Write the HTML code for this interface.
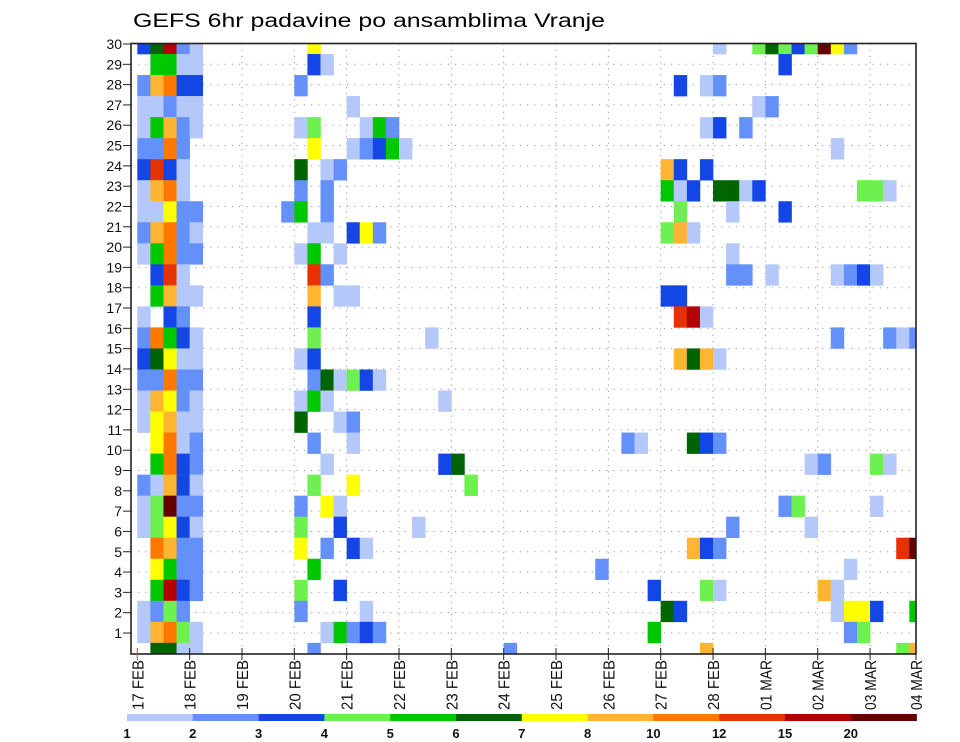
<!DOCTYPE html>
<html><head><meta charset="utf-8"><style>
html,body{margin:0;padding:0;background:#fff;}
svg{display:block;}
</style></head><body>
<svg id="chart" width="960" height="742" viewBox="0 0 960 742" xmlns="http://www.w3.org/2000/svg" font-family="'Liberation Sans', sans-serif">
<defs><clipPath id="plotclip"><rect x="131" y="43.5" width="785" height="610.5"/></clipPath></defs>
<text x="133" y="27" font-size="19" textLength="472" lengthAdjust="spacingAndGlyphs" fill="#000">GEFS 6hr padavine po ansamblima Vranje</text>
<g id="grid"></g>
<g id="cells" clip-path="url(#plotclip)"></g>
<g id="axes"></g>
<g id="colorbar"></g>
</svg>
<script>
// ---- data ----
const dayLabels = ["17 FEB","18 FEB","19 FEB","20 FEB","21 FEB","22 FEB","23 FEB","24 FEB","25 FEB","26 FEB","27 FEB","28 FEB","01 MAR","02 MAR","03 MAR","04 MAR"];
const memberLabels = [1,2,3,4,5,6,7,8,9,10,11,12,13,14,15,16,17,18,19,20,21,22,23,24,25,26,27,28,29,30];
const levels = [1,2,3,4,5,6,7,8,10,12,15,20];
const levelColors = ["#b4c8fa","#6490fa","#1446e6","#6ef050","#00c800","#006400","#ffff00","#ffb432","#ff7800","#e63200","#b40000","#640000"];
// precip[row] = [[col6h, mm], ...]; rows listed top to bottom
const precip = [
 [[0,3.5],[1,6.5],[2,17],[3,2.5],[4,1.5],[13,7.5],[44,1.5],[47,4.5],[48,6.5],[49,4.5],[50,3.5],[51,4.5],[52,25],[53,7.5],[54,2.5]],
 [[1,5.5],[2,5.5],[3,1.5],[4,1.5],[13,3.5],[14,1.5],[49,3.5]],
 [[0,2.5],[1,9],[2,11],[3,3.5],[4,3.5],[12,2.5],[41,3.5],[43,1.5],[44,2.5]],
 [[0,1.5],[1,1.5],[2,2.5],[3,1.5],[4,1.5],[16,1.5],[47,1.5],[48,2.5]],
 [[0,1.5],[1,5.5],[2,9],[3,2.5],[4,1.5],[12,1.5],[13,4.5],[17,1.5],[18,5.5],[19,2.5],[43,1.5],[44,3.5],[46,2.5]],
 [[0,2.5],[1,2.5],[2,11],[3,2.5],[13,7.5],[16,1.5],[17,2.5],[18,3.5],[19,5.5],[20,1.5],[53,1.5]],
 [[0,3.5],[1,13],[2,3.5],[3,1.5],[12,6.5],[14,1.5],[15,2.5],[40,9],[41,3.5],[43,3.5]],
 [[0,1.5],[1,9],[2,11],[3,1.5],[12,2.5],[14,2.5],[40,5.5],[41,1.5],[42,3.5],[44,6.5],[45,6.5],[46,1.5],[47,3.5],[55,4.5],[56,4.5],[57,1.5]],
 [[0,1.5],[1,1.5],[2,7.5],[3,2.5],[4,2.5],[11,2.5],[12,5.5],[14,2.5],[41,4.5],[45,1.5],[49,3.5]],
 [[0,2.5],[1,9],[2,11],[3,2.5],[4,1.5],[13,1.5],[14,1.5],[16,3.5],[17,7.5],[18,2.5],[40,4.5],[41,9],[42,1.5]],
 [[0,1.5],[1,5.5],[2,11],[3,2.5],[4,2.5],[12,1.5],[13,5.5],[15,1.5],[45,1.5]],
 [[1,3.5],[2,13],[3,1.5],[13,13],[14,2.5],[45,2.5],[46,2.5],[48,1.5],[53,1.5],[54,2.5],[55,3.5],[56,1.5]],
 [[1,5.5],[2,9],[3,1.5],[4,1.5],[13,9],[15,1.5],[16,1.5],[40,3.5],[41,3.5]],
 [[0,1.5],[2,3.5],[3,2.5],[13,3.5],[41,13],[42,17],[43,1.5]],
 [[0,2.5],[1,11],[2,5.5],[3,3.5],[4,1.5],[13,4.5],[22,1.5],[53,2.5],[57,2.5],[58,1.5],[59,2.5]],
 [[0,3.5],[1,6.5],[2,7.5],[3,1.5],[4,1.5],[12,1.5],[13,3.5],[41,9],[42,6.5],[43,9],[44,1.5]],
 [[0,2.5],[1,2.5],[2,11],[3,2.5],[4,2.5],[13,2.5],[14,6.5],[15,1.5],[16,4.5],[17,3.5],[18,1.5]],
 [[0,1.5],[1,9],[2,7.5],[3,2.5],[4,1.5],[12,1.5],[13,5.5],[14,1.5],[23,1.5]],
 [[0,1.5],[1,7.5],[2,9],[3,1.5],[4,1.5],[12,6.5],[15,1.5],[16,2.5]],
 [[1,7.5],[2,11],[3,1.5],[4,2.5],[13,2.5],[16,1.5],[37,2.5],[38,1.5],[42,6.5],[43,3.5],[44,2.5]],
 [[1,5.5],[2,11],[3,3.5],[4,2.5],[14,1.5],[23,3.5],[24,6.5],[51,1.5],[52,2.5],[56,4.5],[57,1.5]],
 [[0,2.5],[1,1.5],[2,9],[3,3.5],[4,1.5],[13,4.5],[16,7.5],[25,4.5]],
 [[0,1.5],[1,4.5],[2,25],[3,2.5],[4,2.5],[12,2.5],[14,7.5],[15,1.5],[49,2.5],[50,4.5],[56,1.5]],
 [[0,1.5],[1,4.5],[2,7.5],[3,3.5],[4,1.5],[12,4.5],[15,3.5],[21,1.5],[45,2.5],[51,1.5]],
 [[1,11],[2,9],[3,2.5],[4,2.5],[12,7.5],[14,2.5],[16,3.5],[17,1.5],[42,9],[43,3.5],[44,2.5],[58,13],[59,25]],
 [[1,7.5],[2,5.5],[3,2.5],[4,2.5],[13,5.5],[35,2.5],[54,1.5]],
 [[1,5.5],[2,17],[3,3.5],[4,2.5],[12,4.5],[15,3.5],[39,3.5],[43,4.5],[44,1.5],[52,9],[53,1.5]],
 [[0,1.5],[1,2.5],[2,4.5],[3,2.5],[12,2.5],[17,1.5],[40,6.5],[41,3.5],[53,1.5],[54,7.5],[55,7.5],[56,3.5],[59,5.5]],
 [[0,1.5],[1,9],[2,11],[3,4.5],[4,1.5],[14,1.5],[15,5.5],[16,2.5],[17,3.5],[18,2.5],[39,5.5],[54,2.5],[55,4.5]],
 [[1,6.5],[2,6.5],[3,1.5],[4,1.5],[13,2.5],[28,2.5],[43,9],[58,4.5],[59,9]]
];

// ---- scales ----
const NS="http://www.w3.org/2000/svg";
const X0=137.3, COLW=13.085, DAYW=52.34;
const ROW0=43.5, ROWH=21.03;
function xCol(c){return X0+c*COLW;}
function xDay(d){return X0+d*DAYW;}
function yRow(r){return ROW0+r*ROWH;}           // center of row r (0 = top)
function yLabel(k){return 44+(30-k)*20.31;}      // y-axis label position
function colorFor(v){let idx=-1;for(let i=0;i<levels.length;i++){if(v>=levels[i])idx=i;}return idx<0?null:levelColors[idx];}
function mk(tag,attrs,parent){const e=document.createElementNS(NS,tag);for(const k in attrs)e.setAttribute(k,attrs[k]);parent.appendChild(e);return e;}

const grid=document.getElementById('grid'), cells=document.getElementById('cells'), axes=document.getElementById('axes'), cbar=document.getElementById('colorbar');

// grid lines
memberLabels.forEach(k=>{ if(k<30){
  const l=mk('line',{x1:131,x2:916,y1:yLabel(k),y2:yLabel(k),stroke:'#999','stroke-width':1,'stroke-dasharray':'1.2 6'},grid);
  
  
}});
dayLabels.forEach((d,i)=>{ if(i>0 && i<dayLabels.length-1){
  const l=mk('line',{x1:xDay(i),x2:xDay(i),y1:43.5,y2:654,stroke:'#999','stroke-width':1,'stroke-dasharray':'1.2 5'},grid);
  
  
}});

// cells
precip.forEach((row,r)=>{
  row.forEach(([c,v])=>{
    const col=colorFor(v); if(!col) return;
    const rc=mk('rect',{x:xCol(c),y:yRow(r)-ROWH/2,width:COLW+0.3,height:ROWH+0.3,fill:col},cells);
    
    
  });
});

// frame
const fr=mk('rect',{x:131,y:43.5,width:785,height:610.5,fill:'none',stroke:'#222','stroke-width':1.6},axes);



// y ticks + labels
memberLabels.forEach(k=>{
  const y=yLabel(k);
  const t=mk('line',{x1:123,x2:131,y1:y,y2:y,stroke:'#222','stroke-width':1},axes);
  
  
  const tx=mk('text',{x:122,y:y+5,'font-size':14,'text-anchor':'end',fill:'#111'},axes);
  tx.textContent=String(k);
  
  
});

// x ticks + labels
dayLabels.forEach((d,i)=>{
  const x=Math.min(xDay(i),916);
  const t=mk('line',{x1:x,x2:x,y1:648,y2:660,stroke:i===0?'#c44':'#222','stroke-width':1},axes);
  
  
  const tx=mk('text',{x:0,y:0,'font-size':16,fill:'#111',textLength:50,lengthAdjust:'spacingAndGlyphs',transform:'translate('+(x+6)+',710) rotate(-90)'},axes);
  tx.textContent=d;
  
  
});

// colorbar
const CB0=127, CBW=65.8;
levelColors.forEach((c,i)=>{
  const r=mk('rect',{x:CB0+i*CBW,y:714,width:CBW+0.3,height:7,fill:c},cbar);
  
  
});
levels.forEach((lv,i)=>{
  const t=mk('text',{x:CB0+i*CBW,y:738,'font-size':13,'font-weight':'bold','text-anchor':'middle',fill:'#111'},cbar);
  t.textContent=String(lv);
  
  
});
</script>
</body></html>
